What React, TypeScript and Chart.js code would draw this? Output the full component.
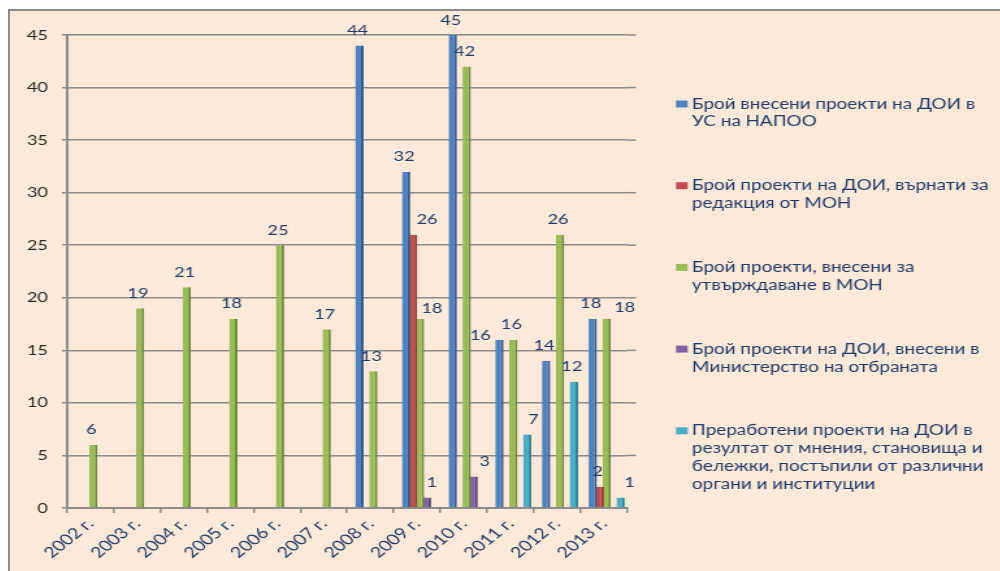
import React, { useEffect, useRef } from 'react';
import { Chart, registerables } from 'chart.js';

Chart.register(...registerables);

// ---------- data ----------
const categories = ['2002 г.', '2003 г.', '2004 г.', '2005 г.', '2006 г.', '2007 г.', '2008 г.', '2009 г.', '2010 г.', '2011 г.', '2012 г.', '2013 г.'];

const submittedToBoard = [null, null, null, null, null, null, 44, 32, 45, 16, 14, 18];
const returnedForEditing = [null, null, null, null, null, null, null, 26, null, null, null, 2];
const submittedForApproval = [6, 19, 21, 18, 25, 17, 13, 18, 42, 16, 26, 18];
const submittedToDefence = [null, null, null, null, null, null, null, 1, 3, null, null, null];
const revisedProjects = [null, null, null, null, null, null, null, null, null, 7, 12, 1];

const seriesLabels = [
  ['Брой внесени проекти на ДОИ в', 'УС на НАПОО'],
  ['Брой проекти на ДОИ, върнати за', 'редакция от МОН'],
  ['Брой проекти, внесени за', 'утвърждаване в МОН'],
  ['Брой проекти на ДОИ, внесени в', 'Министерство на отбраната'],
  ['Преработени проекти на ДОИ в', 'резултат от мнения, становища и', 'бележки, постъпили от различни', 'органи и институции'],
];

const yMin = 0;
const yMax = 45;
const yStep = 5;

// ---------- styles ----------
const S = 1.3; // horizontal stretch of the original picture
const CANVAS_W = Math.round(990 / S);
const CANVAS_H = 560;
const FONT = 'Lato, "Open Sans", sans-serif';
const NAVY = '#1F3A68';
const GRID = '#8C8C8C';
const faceColors = ['#4F81BD', '#C0504D', '#9BBB59', '#8064A2', '#4BACC6'];
const sideColors = ['#375D8C', '#8C3836', '#6F8A3C', '#5B4775', '#33829A'];

// label nudges (final px) for labels Excel moved aside
const labelNudges: Record<string, [number, number]> = {
  '1-7': [16, 0],
  '2-7': [14, 5],
  '3-7': [7, 0],
  '0-9': [-17, 11],
  '3-8': [13, 0],
  '4-9': [8, 0],
  '2-11': [20, 4],
  '4-11': [11, 0],
};

const px = (x: number) => (x - 10) / S; // page x -> canvas x
const py = (y: number) => y - 11; // page y -> canvas y

const perspectivePlugin = {
  id: 'perspective',
  beforeDatasetsDraw(chart: any) {
    const { ctx, chartArea, scales } = chart;
    ctx.save();
    ctx.strokeStyle = GRID;
    ctx.lineWidth = 1.5;
    scales.y.ticks.forEach((t: any) => {
      const y = scales.y.getPixelForValue(t.value);
      if (t.value === 0) return;
      ctx.beginPath();
      ctx.moveTo(chartArea.right, y);
      ctx.lineTo(chartArea.right + 9 / S, y);
      ctx.stroke();
    });
    ctx.restore();
    ctx.save();
    ctx.translate(3 / S, 0);
  },
  afterDatasetsDraw(chart: any) {
    const { ctx } = chart;
    ctx.restore();
    ctx.save();
    ctx.font = `14px ${FONT}`;
    ctx.fillStyle = NAVY;
    ctx.textAlign = 'center';
    ctx.textBaseline = 'middle';
    chart.data.datasets.forEach((ds: any, di: number) => {
      const meta = chart.getDatasetMeta(di);
      meta.data.forEach((bar: any, i: number) => {
        const v = ds.data[i];
        if (v == null) return;
        const n = labelNudges[`${di}-${i}`] || [0, 0];
        ctx.fillText(String(v), bar.x + (1 + n[0]) / S, bar.y - 15 + n[1]);
      });
    });
    ctx.restore();
  },
  afterDraw(chart: any) {
    const { ctx } = chart;
    ctx.save();
    ctx.font = `14.5px ${FONT}`;
    ctx.textAlign = 'left';
    ctx.textBaseline = 'middle';
    const firstY = py(104);
    const step = 81.7;
    const lineH = 17.8;
    chart.data.datasets.forEach((ds: any, di: number) => {
      const top = firstY + di * step;
      ctx.fillStyle = faceColors[di];
      ctx.fillRect(px(676), top - 3.5, 9, 7);
      ctx.fillStyle = NAVY;
      seriesLabels[di].forEach((line, li) => {
        ctx.fillText(line, px(692), top + li * lineH);
      });
    });
    ctx.restore();
  },
};

export default function App() {
  const ref = useRef<HTMLCanvasElement | null>(null);

  useEffect(() => {
    if (!ref.current) return;
    const series = [submittedToBoard, returnedForEditing, submittedForApproval, submittedToDefence, revisedProjects];
    const chart = new Chart(ref.current, {
      type: 'bar',
      data: {
        labels: categories,
        datasets: series.map((d, i) => ({
          label: seriesLabels[i].join(' '),
          data: d,
          backgroundColor: faceColors[i],
          borderColor: sideColors[i],
          borderWidth: { right: 2, left: 0, top: 0, bottom: 0 },
          borderSkipped: false,
          categoryPercentage: 0.745,
          barPercentage: 1.2,
        })),
      },
      options: {
        responsive: false,
        animation: false,
        devicePixelRatio: 1,
        layout: { padding: { top: py(35), right: CANVAS_W - px(627), left: 0, bottom: 0 } },
        plugins: { legend: { display: false }, tooltip: { enabled: false } },
        scales: {
          x: {
            grid: { display: true, drawOnChartArea: false, drawTicks: true, tickLength: 5, color: GRID, lineWidth: 1.5 },
            border: { display: true, color: GRID, width: 2 },
            ticks: {
              color: NAVY,
              font: { family: FONT, size: 15 },
              minRotation: 46,
              maxRotation: 46,
              padding: 2,
              autoSkip: false,
            },
            afterFit: (scale: any) => {
              scale.height = CANVAS_H - py(508);
            },
          },
          y: {
            min: yMin,
            max: yMax,
            grid: { color: GRID, lineWidth: 1.5, drawTicks: true, tickLength: 5 / S, tickColor: GRID },
            border: { display: true, color: GRID, width: 2 },
            ticks: {
              stepSize: yStep,
              color: '#262626',
              font: { family: FONT, size: 14 },
              padding: 10.8,
            },
            afterFit: (scale: any) => {
              scale.width = px(67);
            },
          },
        },
      },
      plugins: [perspectivePlugin],
    });
    return () => chart.destroy();
  }, []);

  return (
    <div style={{ position: 'fixed', left: 0, top: 0, width: 1000, height: 571, background: '#ffffff', overflow: 'hidden' }}>
      <div
        style={{
          position: 'absolute',
          left: 8,
          top: 9,
          right: 0,
          bottom: 0,
          borderTop: '2px solid #8A8A8A',
          borderLeft: '2px solid #8A8A8A',
          background: '#FDE9D9',
          overflow: 'hidden',
        }}
      >
        <div style={{ position: 'absolute', left: 0, top: 0, width: CANVAS_W, height: CANVAS_H, transform: `scaleX(${S})`, transformOrigin: '0 0' }}>
          <canvas ref={ref} width={CANVAS_W} height={CANVAS_H} style={{ display: 'block', width: CANVAS_W, height: CANVAS_H }} />
        </div>
      </div>
    </div>
  );
}
